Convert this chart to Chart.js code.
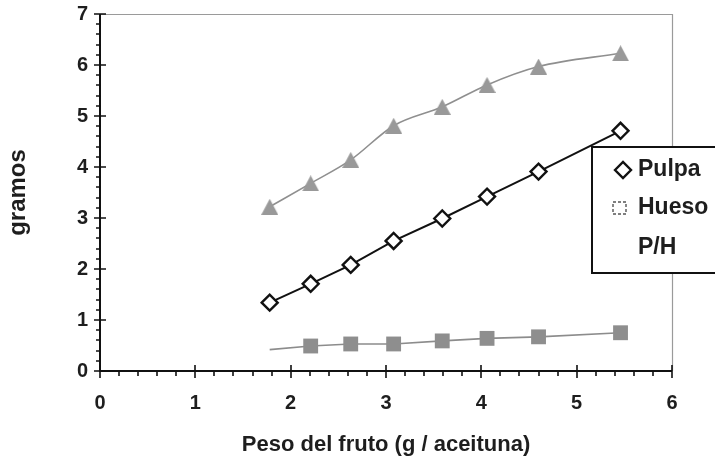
<!DOCTYPE html>
<html>
<head>
<meta charset="utf-8">
<script src="https://cdn.jsdelivr.net/npm/chart.js@4.4.1/dist/chart.umd.min.js"></script>
<style>
  html, body { margin: 0; padding: 0; background: #ffffff; }
  #wrap { position: relative; width: 715px; height: 462px; }
</style>
</head>
<body>
<div id="wrap"><canvas id="chart" width="715" height="462"></canvas></div>
<script>
// Fruit weight (g per olive) and the component weights (g)
const pesoFruto  = [1.78, 2.21, 2.63, 3.08, 3.59, 4.06, 4.60, 5.46];
const pulpa      = [1.34, 1.71, 2.08, 2.55, 2.99, 3.42, 3.91, 4.71];
const hueso      = [0.42, 0.49, 0.53, 0.53, 0.59, 0.64, 0.67, 0.75];
const relacionPH = [3.22, 3.68, 4.14, 4.81, 5.18, 5.61, 5.97, 6.23];

const seriesNames = ['Pulpa', 'Hueso', 'P/H'];
const xTicks = [0, 1, 2, 3, 4, 5, 6];
const yTicks = [0, 1, 2, 3, 4, 5, 6, 7];

const FONT = "'Liberation Sans', Arial, sans-serif";
const TEXT = '#1e1e1e';

function pairs(xs, ys) { return xs.map((x, i) => ({ x: x, y: ys[i] })); }

// Filled triangle marker centred on its bounding box
function triangleMarker(w, h, color) {
  const c = document.createElement('canvas');
  c.width = w; c.height = h;
  const g = c.getContext('2d');
  g.fillStyle = color;
  g.beginPath();
  g.moveTo(w / 2, 0); g.lineTo(w, h); g.lineTo(0, h); g.closePath();
  g.fill();
  return c;
}

// Axis lines, crossing major ticks and small minor ticks, plus the light frame
const axesPlugin = {
  id: 'axesPlugin',
  beforeDatasetsDraw(chart) {
    const { ctx, chartArea: a, scales: { x, y } } = chart;
    ctx.save();
    // light frame on top and right
    ctx.strokeStyle = '#9a9a9a';
    ctx.lineWidth = 1.2;
    ctx.beginPath();
    ctx.moveTo(a.left, a.top + 0.5); ctx.lineTo(a.right + 0.5, a.top + 0.5); ctx.lineTo(a.right + 0.5, a.bottom);
    ctx.stroke();

    ctx.strokeStyle = '#111';
    ctx.lineWidth = 2;
    ctx.beginPath();
    ctx.moveTo(a.left, a.top); ctx.lineTo(a.left, a.bottom); ctx.lineTo(a.right, a.bottom);
    ctx.stroke();

    ctx.lineWidth = 1.6;
    ctx.beginPath();
    for (let v = 0; v <= 6.0001; v += 0.2) {
      const px = Math.round(x.getPixelForValue(v));
      const major = Math.abs(v - Math.round(v)) < 1e-6;
      if (major) { ctx.moveTo(px, a.bottom - 6); ctx.lineTo(px, a.bottom + 7); }
      else { ctx.moveTo(px, a.bottom); ctx.lineTo(px, a.bottom + 5); }
    }
    for (let v = 0; v <= 7.0001; v += 0.2) {
      const py = Math.round(y.getPixelForValue(v));
      const major = Math.abs(v - Math.round(v)) < 1e-6;
      if (major) { ctx.moveTo(a.left - 6, py); ctx.lineTo(a.left + 6, py); }
      else { ctx.moveTo(a.left - 4, py); ctx.lineTo(a.left + 1, py); }
    }
    ctx.stroke();
    ctx.restore();
  }
};

// Boxed legend placed over the right edge of the plot
const legendBox = {
  id: 'legendBox',
  afterDraw(chart) {
    const { ctx, chartArea: a } = chart;
    const left = a.right - 80, top = a.top + 133, w = 150, h = 126;
    ctx.save();
    ctx.fillStyle = '#ffffff';
    ctx.fillRect(left, top, w, h);
    ctx.strokeStyle = '#111';
    ctx.lineWidth = 2;
    ctx.strokeRect(left, top, w, h);

    const rows = [top + 23, top + 61, top + 101];
    const mx = left + 31, tx = left + 46;
    // diamond
    ctx.lineWidth = 2.4;
    ctx.strokeStyle = '#111';
    ctx.beginPath();
    ctx.moveTo(mx - 8, rows[0]); ctx.lineTo(mx, rows[0] - 8); ctx.lineTo(mx + 8, rows[0]); ctx.lineTo(mx, rows[0] + 8);
    ctx.closePath(); ctx.stroke();
    // dashed square
    ctx.lineWidth = 1.4;
    ctx.strokeStyle = '#555';
    ctx.setLineDash([3, 2]);
    ctx.strokeRect(mx - 10, rows[1] - 6, 13, 12);
    ctx.setLineDash([]);

    ctx.fillStyle = TEXT;
    ctx.font = 'bold 23px ' + FONT;
    ctx.textBaseline = 'middle';
    ctx.textAlign = 'left';
    const labels = chart.data.datasets.map(d => d.label);
    ctx.fillText(labels[0], tx, rows[0]);
    ctx.fillText(labels[1], tx, rows[1]);
    ctx.fillText(labels[2], tx, rows[2]);
    ctx.restore();
  }
};

new Chart(document.getElementById('chart'), {
  type: 'scatter',
  data: {
    datasets: [
      {
        label: seriesNames[0],
        data: pairs(pesoFruto, pulpa),
        showLine: true,
        borderColor: '#111',
        borderWidth: 2,
        pointStyle: 'rectRot',
        pointRadius: 8,
        pointBorderWidth: 2.4,
        pointBorderColor: '#111',
        pointBackgroundColor: '#ffffff',
        order: 0
      },
      {
        label: seriesNames[1],
        data: pairs(pesoFruto, hueso),
        showLine: true,
        borderColor: '#8c8c8c',
        borderWidth: 1.6,
        pointStyle: 'rect',
        pointRadius: hueso.map((v, i) => i === 0 ? 0 : 10.5),
        pointBorderWidth: 0,
        pointBackgroundColor: '#8e8e8e',
        order: 1
      },
      {
        label: seriesNames[2],
        data: pairs(pesoFruto, relacionPH),
        showLine: true,
        cubicInterpolationMode: 'monotone',
        borderColor: '#8f8f8f',
        borderWidth: 1.6,
        pointStyle: triangleMarker(17, 16, '#999999'),
        pointRadius: 9,
        order: 2
      }
    ]
  },
  options: {
    responsive: false,
    animation: false,
    devicePixelRatio: 1,
    layout: { padding: { left: 0, right: 43, top: 14, bottom: 0 } },
    plugins: { legend: { display: false }, tooltip: { enabled: false } },
    scales: {
      x: {
        type: 'linear',
        min: 0, max: 6,
        afterBuildTicks(scale) { scale.ticks = xTicks.map(v => ({ value: v })); },
        afterFit(scale) { scale.height = 91; scale.paddingLeft = 0; scale.paddingRight = 0; },
        grid: { display: false, drawTicks: false },
        border: { display: false },
        ticks: { padding: 20, color: TEXT, font: { family: FONT, size: 20, weight: 'bold' } },
        title: {
          display: true,
          text: 'Peso del fruto (g / aceituna)',
          color: TEXT,
          padding: { top: 0, bottom: 4 },
          font: { family: FONT, size: 22, weight: 'bold' }
        }
      },
      y: {
        type: 'linear',
        min: 0, max: 7,
        afterBuildTicks(scale) { scale.ticks = yTicks.map(v => ({ value: v })); },
        afterFit(scale) { scale.width = 100; scale.paddingTop = 0; scale.paddingBottom = 0; },
        grid: { display: false, drawTicks: false },
        border: { display: false },
        ticks: { padding: 12, color: TEXT, font: { family: FONT, size: 20, weight: 'bold' } },
        title: {
          display: true,
          text: 'gramos',
          color: TEXT,
          padding: { top: 4, bottom: 0 },
          font: { family: FONT, size: 24, weight: 'bold' }
        }
      }
    }
  },
  plugins: [axesPlugin, legendBox]
});
</script>
</body>
</html>
